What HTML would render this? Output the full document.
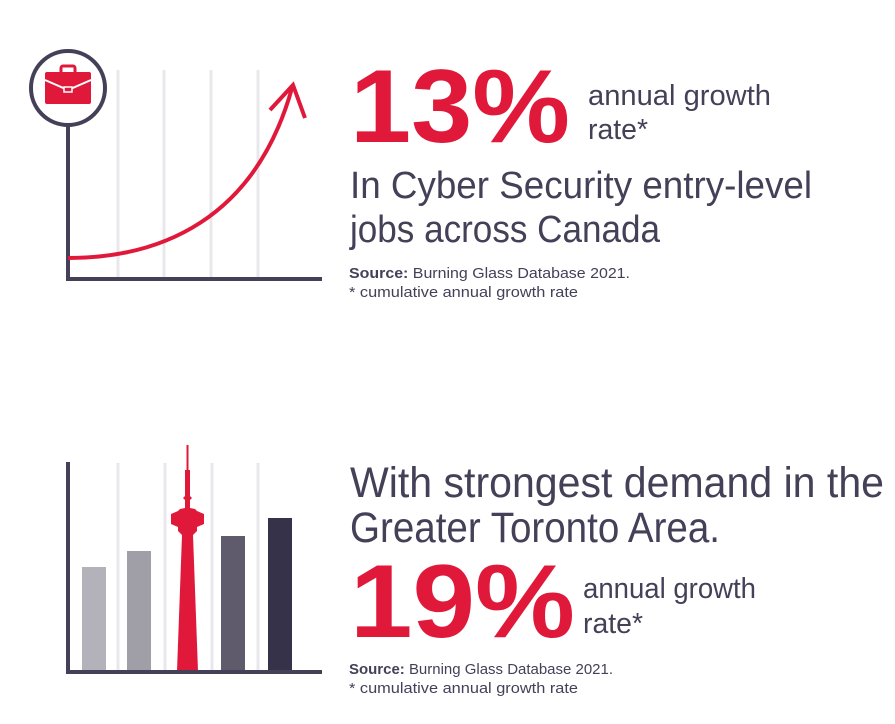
<!DOCTYPE html>
<html><head><meta charset="utf-8"><style>
html,body{margin:0;padding:0;background:#fff;}
svg{display:block;font-family:"Liberation Sans",sans-serif;}
</style></head><body>
<svg width="895" height="724" viewBox="0 0 895 724">
<g id="top-chart">
  <g stroke="#e8e8ec" stroke-width="3">
    <line x1="118" y1="70" x2="118" y2="278"/><line x1="164" y1="70" x2="164" y2="278"/>
    <line x1="211" y1="70" x2="211" y2="278"/><line x1="258" y1="70" x2="258" y2="278"/>
  </g>
  <line x1="68" y1="126" x2="68" y2="281" stroke="#444058" stroke-width="4"/>
  <line x1="66" y1="279" x2="322" y2="279" stroke="#444058" stroke-width="4"/>
  <circle cx="68" cy="88" r="37" fill="#fff" stroke="#444058" stroke-width="4"/>
  <g>
    <rect x="61" y="66" width="14" height="8" rx="2" fill="none" stroke="#e0193a" stroke-width="3"/>
    <rect x="45" y="72" width="46" height="32" rx="2" fill="#e0193a"/>
    <path d="M45 80 L68 90 L91 80" fill="none" stroke="#fff" stroke-width="2"/>
    <rect x="64" y="87" width="8" height="5" fill="#e0193a" stroke="#fff" stroke-width="1.5"/>
  </g>
  <path d="M68 258 C160 258 255 220 292 88" fill="none" stroke="#e0193a" stroke-width="4"/>
  <path d="M270 110 L293 85 L305 118" fill="none" stroke="#e0193a" stroke-width="4"/>
</g>
<g id="bottom-chart">
  <g stroke="#e8e8ec" stroke-width="3">
    <line x1="118" y1="463" x2="118" y2="670"/><line x1="165" y1="463" x2="165" y2="670"/>
    <line x1="212" y1="463" x2="212" y2="670"/><line x1="258" y1="463" x2="258" y2="670"/>
  </g>
  <g id="bars"></g>
  <path d="M177 671 L182 535 L178 531 L178 527 L171 524 L171 514 L178 511 L180 509 L185 508 L185 500 L183 498 L185 496 L185 470 L186.5 470 L186.5 445 L188.5 445 L188.5 470 L190 470 L190 496 L192 498 L190 500 L190 508 L195 509 L197 511 L204 514 L204 524 L197 527 L197 531 L193 535 L198 671 Z" fill="#e0193a"/>
  <line x1="68" y1="462" x2="68" y2="674" stroke="#444058" stroke-width="4"/>
  <line x1="66" y1="672" x2="322" y2="672" stroke="#444058" stroke-width="4"/>
</g>
<g fill="#444058">
  <text x="350" y="142" font-size="104" font-weight="bold" fill="#e0193a" textLength="220" lengthAdjust="spacingAndGlyphs">13%</text>
  <text x="588" y="105" font-size="29" textLength="183" lengthAdjust="spacingAndGlyphs">annual growth</text>
  <text x="588" y="139" font-size="29" textLength="60" lengthAdjust="spacingAndGlyphs">rate*</text>
  <text x="350" y="198" font-size="38" textLength="462" lengthAdjust="spacingAndGlyphs">In Cyber Security entry-level</text>
  <text x="350" y="242" font-size="38" textLength="310" lengthAdjust="spacingAndGlyphs">jobs across Canada</text>
  <text x="349" y="278" font-size="15" textLength="281" lengthAdjust="spacingAndGlyphs"><tspan font-weight="bold">Source:</tspan> Burning Glass Database 2021.</text>
  <text x="349" y="297" font-size="15" textLength="229" lengthAdjust="spacingAndGlyphs">* cumulative annual growth rate</text>
</g>
<g fill="#444058">
  <text x="350" y="497" font-size="43" textLength="534" lengthAdjust="spacingAndGlyphs">With strongest demand in the</text>
  <text x="350" y="542" font-size="43" textLength="370" lengthAdjust="spacingAndGlyphs">Greater Toronto Area.</text>
  <text x="350" y="637" font-size="104" font-weight="bold" fill="#e0193a" textLength="225" lengthAdjust="spacingAndGlyphs">19%</text>
  <text x="583" y="598" font-size="29" textLength="173" lengthAdjust="spacingAndGlyphs">annual growth</text>
  <text x="583" y="633" font-size="29" textLength="60" lengthAdjust="spacingAndGlyphs">rate*</text>
  <text x="349" y="674" font-size="15" textLength="264" lengthAdjust="spacingAndGlyphs"><tspan font-weight="bold">Source:</tspan> Burning Glass Database 2021.</text>
  <text x="349" y="693" font-size="15" textLength="229" lengthAdjust="spacingAndGlyphs">* cumulative annual growth rate</text>
</g>
</svg>
<script>
const barCategories = ["bar-1", "bar-2", "bar-4", "bar-5"];
const barValues = [105, 121, 136, 154];
const barColors = ["#b3b1b9", "#a09ea7", "#5f5a6c", "#35324a"];
const barLeft = [82, 127, 221, 268];
const baseY = 672, barW = 24;
function yScale(v){ return baseY - v; }
const g = document.getElementById('bars');
barValues.forEach(function(v, i){
  const r = document.createElementNS('http://www.w3.org/2000/svg','rect');
  r.setAttribute('x', barLeft[i]);
  r.setAttribute('y', yScale(v));
  r.setAttribute('width', barW);
  r.setAttribute('height', baseY - yScale(v));
  r.setAttribute('fill', barColors[i]);
  
  
  g.appendChild(r);
});
</script>
</body></html>
